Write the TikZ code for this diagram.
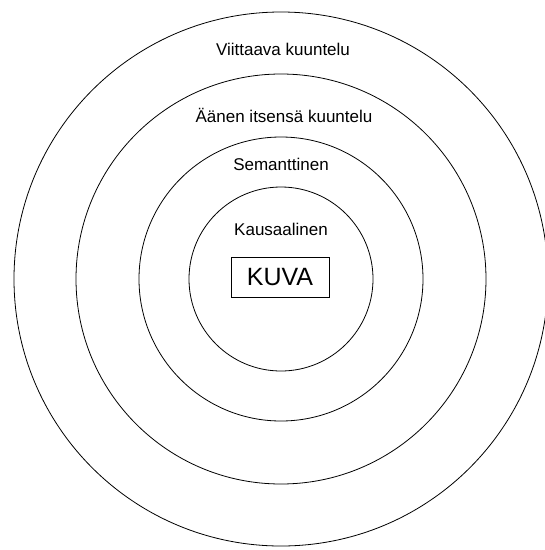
\documentclass[tikz,border=0pt]{standalone}
\usepackage{fontspec}
\setmainfont{Liberation Sans}
\usetikzlibrary{positioning}

\begin{document}
\begin{tikzpicture}[x=1pt,y=-1pt,ring/.style={draw,line width=0.8pt},lbl/.style={font=\fontsize{17}{20}\selectfont,inner sep=0pt},kuvabox/.style={draw,line width=0.8pt,font=\fontsize{25}{30}\selectfont,minimum width=98pt,minimum height=40pt,inner sep=0pt}]
\useasboundingbox (0,0) rectangle (545,550);
\clip (0,0) rectangle (545,550);
\coordinate (c) at (281,279);
\foreach \r in {92,142,205,267} \draw[ring] (c) circle[radius=\r pt];
\node[kuvabox] (kuva) at (280,277) {KUVA};
\node[lbl] (kausaal) at (281,229) {Kausaalinen};
\node[lbl] (semant) at (281,164) {Semanttinen};
\node[lbl] (aanen) at (284,115) {Äänen itsensä kuuntelu};
\node[lbl] (viitt) at (283,49) {Viittaava kuuntelu};
\end{tikzpicture}
\end{document}
